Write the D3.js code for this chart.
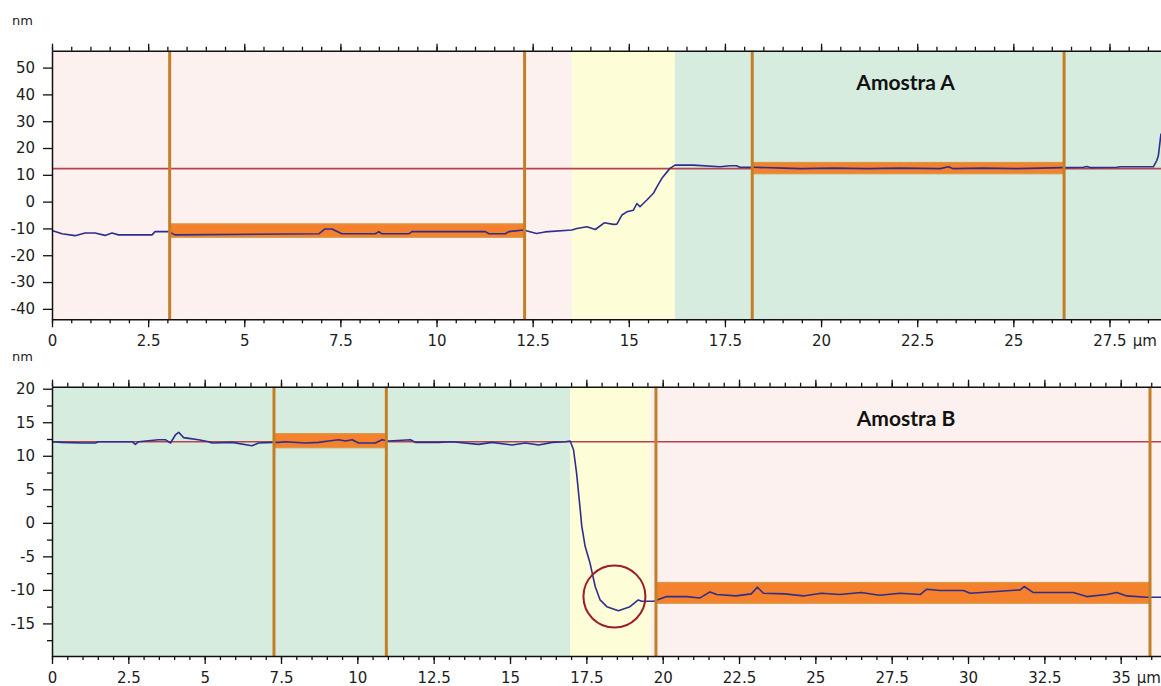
<!DOCTYPE html>
<html>
<head>
<meta charset="utf-8">
<script src="https://cdn.jsdelivr.net/npm/d3@7"></script>
<style>
  body { margin: 0; background: #fff; }
  svg { display: block; }
</style>
</head>
<body>
<svg id="chart" width="1161" height="686"></svg>
<script>
// ---- data: sample A (top profile) ----
const titleA = "Amostra A";
const zoneEdgesA = [0, 13.52, 16.2, 28.84];
const zoneTypesA = ["pink", "yellow", "green"];
const cursorsA = [3.06, 12.29, 18.21, 26.32];
const bandsA = [[3.06, 12.29, -13.3, -8.3], [18.21, 26.32, 10.4, 14.6]];
const refLevelA = 12.3;
const xTicksA = [0, 2.5, 5, 7.5, 10, 12.5, 15, 17.5, 20, 22.5, 25, 27.5];
const yTicksA = [-40, -30, -20, -10, 0, 10, 20, 30, 40, 50];
const profileA = [
  [0, -10.8], [0.26, -12], [0.6, -12.7], [0.86, -11.7], [1.12, -11.7], [1.38, -12.6], [1.56, -11.7],
  [1.73, -12.4], [2.6, -12.4], [2.68, -11.2], [3.03, -11.2], [3.2, -12.4], [6.94, -12], [7.1, -10.2],
  [7.28, -10.2], [7.54, -12], [8.41, -12], [8.5, -11.2], [8.58, -12], [9.28, -12], [9.36, -11.2],
  [11.27, -11.2], [11.36, -12], [11.79, -12], [11.88, -11.2], [12.26, -10.6], [12.6, -11.9],
  [12.82, -11.3], [13.52, -10.6], [13.65, -10], [13.91, -9.4], [14.13, -10.4], [14.36, -7.9],
  [14.6, -8.5], [14.69, -8.4], [14.82, -5], [14.95, -3.8], [15.12, -3.2], [15.21, -0.7], [15.29, -1.9],
  [15.47, 0.6], [15.64, 3.1], [15.73, 5.5], [15.86, 8.7], [16.07, 12.4], [16.2, 13.6], [16.46, 13.6],
  [16.68, 13.6], [17.37, 13], [17.63, 13.4], [17.8, 13.4], [17.89, 12.8], [18.24, 12.8], [19.02, 12.5],
  [19.46, 12.3], [20.32, 12.5], [21.19, 12.3], [22.06, 12.5], [23.1, 12.3], [23.31, 13], [23.44, 12.3],
  [24.22, 12.5], [25.09, 12.3], [26.3, 12.7], [26.82, 12.8], [26.91, 13.1], [27, 12.7], [27.69, 12.8],
  [27.78, 13], [28.64, 13], [28.73, 15.3], [28.77, 17], [28.84, 25.4]
];

// ---- data: sample B (bottom profile) ----
const titleB = "Amostra B";
const zoneEdgesB = [0, 16.97, 19.6, 36.32];
const zoneTypesB = ["green", "yellow", "pink"];
const cursorsB = [7.27, 10.95, 19.78, 35.96];
const bandsB = [[7.27, 10.95, 11.2, 13.3], [19.78, 35.96, -12.0, -8.9]];
const refLevelB = 12.1;
const xTicksB = [0, 2.5, 5, 7.5, 10, 12.5, 15, 17.5, 20, 22.5, 25, 27.5, 30, 32.5, 35];
const yTicksB = [-15, -10, -5, 0, 5, 10, 15, 20];
const yMinorB = [-17.5, -12.5, -7.5, -2.5, 2.5, 7.5, 12.5, 17.5];
const markB = [18.42, -11.0];
const profileB = [
  [0, 12.1], [0.33, 12], [0.98, 11.9], [1.42, 11.9], [1.53, 12.1], [2.62, 12.1], [2.73, 11.7], [2.84, 12.1],
  [3.49, 12.4], [3.71, 12.4], [3.88, 11.9], [4.04, 13.1], [4.15, 13.5], [4.31, 12.7], [4.48, 12.6],
  [4.8, 12.4], [5.13, 12.1], [5.24, 11.9], [5.9, 12], [6.55, 11.5], [6.77, 11.9], [7.26, 12], [7.42, 12],
  [7.64, 12.1], [8.3, 11.9], [8.73, 12], [9.06, 12.2], [9.39, 12.4], [9.61, 12.2], [9.83, 12.4],
  [10.04, 11.9], [10.59, 11.9], [10.81, 12.4], [11.03, 12.2], [11.74, 12.4], [11.9, 12], [12.66, 12],
  [13.1, 12.1], [13.97, 11.7], [14.41, 12], [15.07, 11.6], [15.5, 11.9], [15.94, 11.6], [16.38, 12],
  [16.81, 12.1], [16.97, 12.2], [17.08, 10.9], [17.18, 7.4], [17.29, 2.4], [17.35, -0.5], [17.46, -3.5],
  [17.62, -6], [17.79, -9.5], [17.95, -11.5], [18.17, -12.5], [18.55, -13.1], [18.93, -12.5],
  [19.2, -11.5], [19.31, -11.7], [19.7, -11.7], [20.13, -11], [20.79, -11], [21.22, -11.2],
  [21.55, -10.3], [21.77, -10.7], [22.4, -10.9], [22.9, -10.6], [23.1, -9.6], [23.3, -10.5], [24, -10.6],
  [24.6, -10.9], [25.2, -10.5], [25.8, -10.7], [26.5, -10.4], [27.1, -10.8], [27.78, -10.5],
  [28.43, -10.7], [28.65, -9.9], [29.09, -10.1], [29.85, -10.1], [30.07, -10.5], [31.05, -10.2],
  [31.71, -10], [31.84, -9.5], [32.14, -10.4], [33.45, -10.4], [33.89, -11], [34.54, -10.7],
  [34.87, -10.4], [35.2, -10.9], [35.86, -11.1], [36.32, -11.1]
];

// ---- styles ----
const zoneColor = { pink: "#fdf1ef", yellow: "#fdfdd7", green: "#d6ecdf" };
const FONT = "'DejaVu Sans', sans-serif";

const svg = d3.select("#chart");
svg.append("rect").attr("width", 1161).attr("height", 686).attr("fill", "#fff");

function drawPanel(p) {
  const x = d3.scaleLinear().domain(p.xDomain).range([p.left, p.right]);
  const y = d3.scaleLinear().domain(p.yDomain).range([p.bottom, p.top]);
  const g = svg.append("g");

  // background zones
  const zones = p.types.map((t, i) => ({ t, x0: p.edges[i], x1: p.edges[i + 1] }));
  g.selectAll("rect.zone").data(zones).enter().append("rect")
    .attr("class", "zone")
    .attr("x", d => x(d.x0)).attr("width", d => x(d.x1) - x(d.x0))
    .attr("y", p.top).attr("height", p.bottom - p.top)
    .attr("fill", d => zoneColor[d.t]);

  // reference level
  g.append("line")
    .attr("x1", p.left).attr("x2", p.right)
    .attr("y1", y(p.ref)).attr("y2", y(p.ref))
    .attr("stroke", "#b5434e").attr("stroke-width", 1.6);

  // averaging bands
  g.selectAll("rect.band").data(p.bands).enter().append("rect")
    .attr("class", "band")
    .attr("x", d => x(d[0])).attr("width", d => x(d[1]) - x(d[0]))
    .attr("y", d => y(d[3])).attr("height", d => y(d[2]) - y(d[3]))
    .attr("fill", "#f5812c").attr("stroke", "#d49a4a").attr("stroke-width", 1.2);

  // profile
  const line = d3.line().x(d => x(d[0])).y(d => y(d[1]));
  g.append("path").datum(p.profile)
    .attr("d", line).attr("fill", "none")
    .attr("stroke", "#2e2e8e").attr("stroke-width", 1.6).attr("stroke-linejoin", "round");

  // cursors
  g.selectAll("line.cursor").data(p.cursors).enter().append("line")
    .attr("class", "cursor")
    .attr("x1", d => x(d)).attr("x2", d => x(d))
    .attr("y1", p.top).attr("y2", p.bottom)
    .attr("stroke", "#c47f26").attr("stroke-width", 3);

  // axes
  const minorX = d3.range(0, p.xDomain[1], 0.5);
  const ax = (gen, tr) => {
    const a = g.append("g").attr("transform", tr).call(gen);
    a.selectAll("line").attr("stroke", "#111").attr("stroke-width", 1.3);
    a.selectAll("path.domain").attr("stroke", "#111").attr("stroke-width", 1.5);
    a.selectAll("text").attr("font-family", FONT).attr("font-size", 15).attr("fill", "#1c1c1c");
    return a;
  };
  ax(d3.axisBottom(x).tickValues(minorX).tickSize(4).tickSizeOuter(0).tickFormat(""), `translate(0,${p.bottom})`);
  const xb = ax(d3.axisBottom(x).tickValues(p.xTicks).tickSize(8).tickPadding(8).tickFormat(d => String(d)), `translate(0,${p.bottom})`);
  xb.select("path.domain").remove();
  ax(d3.axisTop(x).tickValues(minorX).tickSize(4).tickSizeOuter(0).tickFormat(""), `translate(0,${p.top})`);
  ax(d3.axisTop(x).tickValues(p.xTicks).tickSize(7).tickFormat(""), `translate(0,${p.top})`).select("path.domain").remove();
  if (p.yMinor) {
    ax(d3.axisLeft(y).tickValues(p.yMinor).tickSize(5).tickFormat(""), `translate(${p.left},0)`).select("path.domain").remove();
  }
  ax(d3.axisLeft(y).tickValues(p.yTicks).tickSize(9).tickPadding(8).tickSizeOuter(0).tickFormat(d => String(d)), `translate(${p.left},0)`);

  // unit after the last x label
  const last = xb.selectAll(".tick").filter(d => d === p.xTicks[p.xTicks.length - 1]);
  const lt = last.select("text");
  const w = lt.node().getComputedTextLength();
  last.append("text")
    .attr("x", w / 2 + 6).attr("y", lt.attr("y")).attr("dy", lt.attr("dy"))
    .attr("text-anchor", "start")
    .attr("font-family", FONT).attr("font-size", 15).attr("fill", "#1c1c1c")
    .text("µm");

  // y unit
  svg.append("text")
    .attr("x", 12).attr("y", p.top - 26)
    .attr("font-family", FONT).attr("font-size", 13).attr("fill", "#1c1c1c")
    .text("nm");

  // title
  g.append("text")
    .attr("x", x(p.titlePos[0])).attr("y", y(p.titlePos[1]))
    .attr("text-anchor", "middle")
    .attr("font-family", "Lato, 'Open Sans', sans-serif").attr("font-weight", 700)
    .attr("font-size", 21).attr("fill", "#111")
    .text(p.title);

  return { x, y, g };
}

drawPanel({
  left: 52, right: 1161, top: 50.7, bottom: 319.3,
  xDomain: [0, 28.84], yDomain: [-43.9, 56.3],
  edges: zoneEdgesA, types: zoneTypesA, ref: refLevelA, bands: bandsA,
  profile: profileA, cursors: cursorsA, xTicks: xTicksA, yTicks: yTicksA,
  title: titleA, titlePos: [22.2, 41.6]
});

const pB = drawPanel({
  left: 52, right: 1161, top: 386.7, bottom: 656,
  xDomain: [0, 36.32], yDomain: [-19.86, 20.3],
  edges: zoneEdgesB, types: zoneTypesB, ref: refLevelB, bands: bandsB,
  profile: profileB, cursors: cursorsB, xTicks: xTicksB, yTicks: yTicksB, yMinor: yMinorB,
  title: titleB, titlePos: [27.97, 14.5]
});

// highlight circle on the dip of sample B
pB.g.append("circle")
  .attr("cx", pB.x(markB[0])).attr("cy", pB.y(markB[1])).attr("r", 31)
  .attr("fill", "none").attr("stroke", "#9c1c2c").attr("stroke-width", 2);
</script>
</body>
</html>
